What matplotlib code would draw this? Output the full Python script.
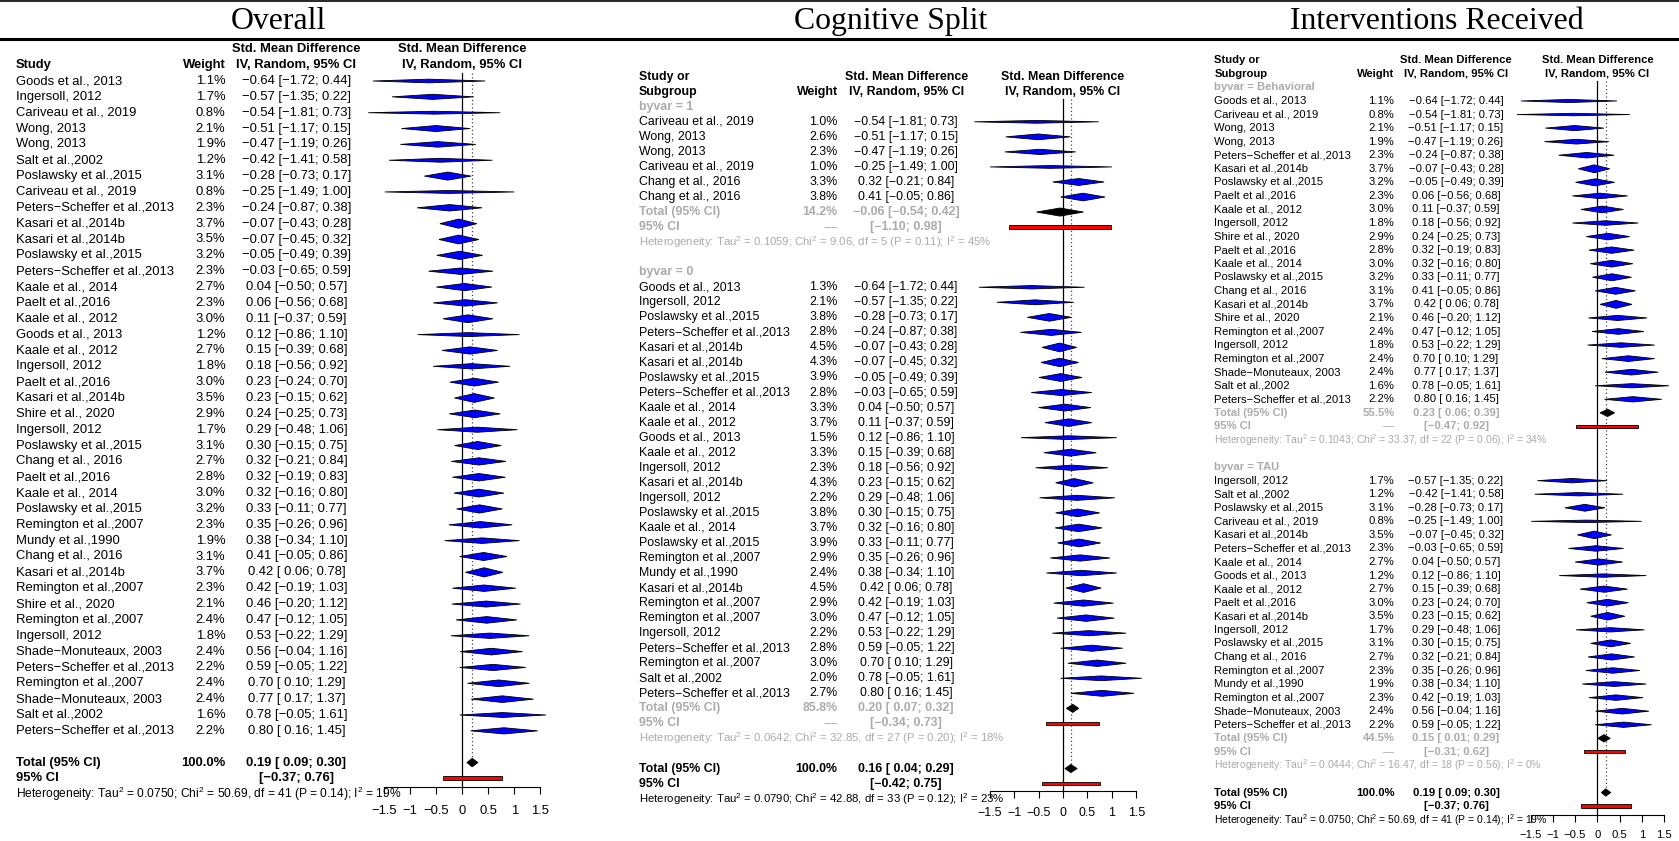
import matplotlib
matplotlib.use("Agg")
import matplotlib.pyplot as plt
import matplotlib.transforms as mtransforms
from matplotlib.patches import Polygon, Rectangle
from matplotlib.lines import Line2D

plt.rcParams['font.family'] = ['Liberation Sans', 'DejaVu Sans']
plt.rcParams['mathtext.fontset'] = 'custom'
plt.rcParams['mathtext.rm'] = 'Liberation Sans'
plt.rcParams['mathtext.default'] = 'regular'

# ---------------- Overall ----------------
overall_study = [
    "Goods et al., 2013", "Ingersoll, 2012", "Cariveau et al., 2019", "Wong, 2013", "Wong, 2013",
    "Salt et al.,2002", "Poslawsky et al.,2015", "Cariveau et al., 2019", "Peters\u2212Scheffer et al.,2013",
    "Kasari et al.,2014b", "Kasari et al.,2014b", "Poslawsky et al.,2015", "Peters\u2212Scheffer et al.,2013",
    "Kaale et al., 2014", "Paelt et al.,2016", "Kaale et al., 2012", "Goods et al., 2013", "Kaale et al., 2012",
    "Ingersoll, 2012", "Paelt et al.,2016", "Kasari et al.,2014b", "Shire et al., 2020", "Ingersoll, 2012",
    "Poslawsky et al.,2015", "Chang et al., 2016", "Paelt et al.,2016", "Kaale et al., 2014",
    "Poslawsky et al.,2015", "Remington et al.,2007", "Mundy et al.,1990", "Chang et al., 2016",
    "Kasari et al.,2014b", "Remington et al.,2007", "Shire et al., 2020", "Remington et al.,2007",
    "Ingersoll, 2012", "Shade\u2212Monuteaux, 2003", "Peters\u2212Scheffer et al.,2013", "Remington et al.,2007",
    "Shade\u2212Monuteaux, 2003", "Salt et al.,2002", "Peters\u2212Scheffer et al.,2013",
]
overall_weight = [1.1, 1.7, 0.8, 2.1, 1.9, 1.2, 3.1, 0.8, 2.3, 3.7, 3.5, 3.2, 2.3, 2.7, 2.3, 3.0, 1.2, 2.7,
                  1.8, 3.0, 3.5, 2.9, 1.7, 3.1, 2.7, 2.8, 3.0, 3.2, 2.3, 1.9, 3.1, 3.7, 2.3, 2.1, 2.4, 1.8,
                  2.4, 2.2, 2.4, 2.4, 1.6, 2.2]
overall_smd = [-0.64, -0.57, -0.54, -0.51, -0.47, -0.42, -0.28, -0.25, -0.24, -0.07, -0.07, -0.05, -0.03,
               0.04, 0.06, 0.11, 0.12, 0.15, 0.18, 0.23, 0.23, 0.24, 0.29, 0.30, 0.32, 0.32, 0.32, 0.33,
               0.35, 0.38, 0.41, 0.42, 0.42, 0.46, 0.47, 0.53, 0.56, 0.59, 0.70, 0.77, 0.78, 0.80]
overall_lower = [-1.72, -1.35, -1.81, -1.17, -1.19, -1.41, -0.73, -1.49, -0.87, -0.43, -0.45, -0.49, -0.65,
                 -0.50, -0.56, -0.37, -0.86, -0.39, -0.56, -0.24, -0.15, -0.25, -0.48, -0.15, -0.21, -0.19,
                 -0.16, -0.11, -0.26, -0.34, -0.05, 0.06, -0.19, -0.20, -0.12, -0.22, -0.04, -0.05, 0.10,
                 0.17, -0.05, 0.16]
overall_upper = [0.44, 0.22, 0.73, 0.15, 0.26, 0.58, 0.17, 1.00, 0.38, 0.28, 0.32, 0.39, 0.59, 0.57, 0.68,
                 0.59, 1.10, 0.68, 0.92, 0.70, 0.62, 0.73, 1.06, 0.75, 0.84, 0.83, 0.80, 0.77, 0.96, 1.10,
                 0.86, 0.78, 1.03, 1.12, 1.05, 1.29, 1.16, 1.22, 1.29, 1.37, 1.61, 1.45]
overall_total = [0.19, 0.09, 0.30]
overall_pred = [-0.37, 0.76]
overall_het = [0.0750, 50.69, 41, 0.14, 19]

# ---------------- Cognitive split ----------------
cog1_study = ["Cariveau et al., 2019", "Wong, 2013", "Wong, 2013", "Cariveau et al., 2019",
              "Chang et al., 2016", "Chang et al., 2016"]
cog1_weight = [1.0, 2.6, 2.3, 1.0, 3.3, 3.8]
cog1_smd = [-0.54, -0.51, -0.47, -0.25, 0.32, 0.41]
cog1_lower = [-1.81, -1.17, -1.19, -1.49, -0.21, -0.05]
cog1_upper = [0.73, 0.15, 0.26, 1.00, 0.84, 0.86]
cog1_total_weight = 14.2
cog1_total = [-0.06, -0.54, 0.42]
cog1_pred = [-1.10, 0.98]
cog1_het = [0.1059, 9.06, 5, 0.11, 45]

cog0_study = [
    "Goods et al., 2013", "Ingersoll, 2012", "Poslawsky et al.,2015", "Peters\u2212Scheffer et al.,2013",
    "Kasari et al.,2014b", "Kasari et al.,2014b", "Poslawsky et al.,2015", "Peters\u2212Scheffer et al.,2013",
    "Kaale et al., 2014", "Kaale et al., 2012", "Goods et al., 2013", "Kaale et al., 2012", "Ingersoll, 2012",
    "Kasari et al.,2014b", "Ingersoll, 2012", "Poslawsky et al.,2015", "Kaale et al., 2014",
    "Poslawsky et al.,2015", "Remington et al.,2007", "Mundy et al.,1990", "Kasari et al.,2014b",
    "Remington et al.,2007", "Remington et al.,2007", "Ingersoll, 2012", "Peters\u2212Scheffer et al.,2013",
    "Remington et al.,2007", "Salt et al.,2002", "Peters\u2212Scheffer et al.,2013",
]
cog0_weight = [1.3, 2.1, 3.8, 2.8, 4.5, 4.3, 3.9, 2.8, 3.3, 3.7, 1.5, 3.3, 2.3, 4.3, 2.2, 3.8, 3.7, 3.9,
               2.9, 2.4, 4.5, 2.9, 3.0, 2.2, 2.8, 3.0, 2.0, 2.7]
cog0_smd = [-0.64, -0.57, -0.28, -0.24, -0.07, -0.07, -0.05, -0.03, 0.04, 0.11, 0.12, 0.15, 0.18, 0.23,
            0.29, 0.30, 0.32, 0.33, 0.35, 0.38, 0.42, 0.42, 0.47, 0.53, 0.59, 0.70, 0.78, 0.80]
cog0_lower = [-1.72, -1.35, -0.73, -0.87, -0.43, -0.45, -0.49, -0.65, -0.50, -0.37, -0.86, -0.39, -0.56,
              -0.15, -0.48, -0.15, -0.16, -0.11, -0.26, -0.34, 0.06, -0.19, -0.12, -0.22, -0.05, 0.10,
              -0.05, 0.16]
cog0_upper = [0.44, 0.22, 0.17, 0.38, 0.28, 0.32, 0.39, 0.59, 0.57, 0.59, 1.10, 0.68, 0.92, 0.62, 1.06,
              0.75, 0.80, 0.77, 0.96, 1.10, 0.78, 1.03, 1.05, 1.29, 1.22, 1.29, 1.61, 1.45]
cog0_total_weight = 85.8
cog0_total = [0.20, 0.07, 0.32]
cog0_pred = [-0.34, 0.73]
cog0_het = [0.0642, 32.85, 27, 0.20, 18]

cog_total = [0.16, 0.04, 0.29]
cog_pred = [-0.42, 0.75]
cog_het = [0.0790, 42.88, 33, 0.12, 23]

# ---------------- Interventions received ----------------
beh_study = [
    "Goods et al., 2013", "Cariveau et al., 2019", "Wong, 2013", "Wong, 2013",
    "Peters\u2212Scheffer et al.,2013", "Kasari et al.,2014b", "Poslawsky et al.,2015", "Paelt et al.,2016",
    "Kaale et al., 2012", "Ingersoll, 2012", "Shire et al., 2020", "Paelt et al.,2016", "Kaale et al., 2014",
    "Poslawsky et al.,2015", "Chang et al., 2016", "Kasari et al.,2014b", "Shire et al., 2020",
    "Remington et al.,2007", "Ingersoll, 2012", "Remington et al.,2007", "Shade\u2212Monuteaux, 2003",
    "Salt et al.,2002", "Peters\u2212Scheffer et al.,2013",
]
beh_weight = [1.1, 0.8, 2.1, 1.9, 2.3, 3.7, 3.2, 2.3, 3.0, 1.8, 2.9, 2.8, 3.0, 3.2, 3.1, 3.7, 2.1, 2.4,
              1.8, 2.4, 2.4, 1.6, 2.2]
beh_smd = [-0.64, -0.54, -0.51, -0.47, -0.24, -0.07, -0.05, 0.06, 0.11, 0.18, 0.24, 0.32, 0.32, 0.33,
           0.41, 0.42, 0.46, 0.47, 0.53, 0.70, 0.77, 0.78, 0.80]
beh_lower = [-1.72, -1.81, -1.17, -1.19, -0.87, -0.43, -0.49, -0.56, -0.37, -0.56, -0.25, -0.19, -0.16,
             -0.11, -0.05, 0.06, -0.20, -0.12, -0.22, 0.10, 0.17, -0.05, 0.16]
beh_upper = [0.44, 0.73, 0.15, 0.26, 0.38, 0.28, 0.39, 0.68, 0.59, 0.92, 0.73, 0.83, 0.80, 0.77, 0.86,
             0.78, 1.12, 1.05, 1.29, 1.29, 1.37, 1.61, 1.45]
beh_total_weight = 55.5
beh_total = [0.23, 0.06, 0.39]
beh_pred = [-0.47, 0.92]
beh_het = [0.1043, 33.37, 22, 0.06, 34]

tau_study = [
    "Ingersoll, 2012", "Salt et al.,2002", "Poslawsky et al.,2015", "Cariveau et al., 2019",
    "Kasari et al.,2014b", "Peters\u2212Scheffer et al.,2013", "Kaale et al., 2014", "Goods et al., 2013",
    "Kaale et al., 2012", "Paelt et al.,2016", "Kasari et al.,2014b", "Ingersoll, 2012",
    "Poslawsky et al.,2015", "Chang et al., 2016", "Remington et al.,2007", "Mundy et al.,1990",
    "Remington et al.,2007", "Shade\u2212Monuteaux, 2003", "Peters\u2212Scheffer et al.,2013",
]
tau_weight = [1.7, 1.2, 3.1, 0.8, 3.5, 2.3, 2.7, 1.2, 2.7, 3.0, 3.5, 1.7, 3.1, 2.7, 2.3, 1.9, 2.3, 2.4, 2.2]
tau_smd = [-0.57, -0.42, -0.28, -0.25, -0.07, -0.03, 0.04, 0.12, 0.15, 0.23, 0.23, 0.29, 0.30, 0.32, 0.35,
           0.38, 0.42, 0.56, 0.59]
tau_lower = [-1.35, -1.41, -0.73, -1.49, -0.45, -0.65, -0.50, -0.86, -0.39, -0.24, -0.15, -0.48, -0.15,
             -0.21, -0.26, -0.34, -0.19, -0.04, -0.05]
tau_upper = [0.22, 0.58, 0.17, 1.00, 0.32, 0.59, 0.57, 1.10, 0.68, 0.70, 0.62, 1.06, 0.75, 0.84, 0.96,
             1.10, 1.03, 1.16, 1.22]
tau_total_weight = 44.5
tau_total = [0.15, 0.01, 0.29]
tau_pred = [-0.31, 0.62]
tau_het = [0.0444, 16.47, 18, 0.56, 0]

int_total = [0.19, 0.09, 0.30]
int_pred = [-0.37, 0.76]
int_het = [0.0750, 50.69, 41, 0.14, 19]

xticks = [-1.5, -1, -0.5, 0, 0.5, 1, 1.5]
xtick_labels = ["\u22121.5", "\u22121", "\u22120.5", "0", "0.5", "1", "1.5"]

W, H = 1679, 841
GREY = "#ababab"
BLUE = "#0000ff"


def num(v):
    s = "%.2f" % abs(v)
    return "\u2212" + s if v < 0 else s


def ci_text(lo, hi):
    lo_s = num(lo) if lo < 0 else " " + num(lo)
    return "[%s; %s]" % (lo_s, num(hi))


def het_text(h):
    tau2, chi2, df, p, i2 = h
    return ("Heterogeneity: Tau$^2$ = %.4f; Chi$^2$ = %.2f, df = %d (P = %.2f); I$^2$ = %d%%"
            % (tau2, chi2, df, p, i2))


def study_rows(names, weights, smd, lower, upper):
    return [("study", n, w, e, lo, hi) for n, w, e, lo, hi in zip(names, weights, smd, lower, upper)]


def subgroup_rows(label, names, weights, smd, lower, upper, tw, tot, pred, het, dash):
    rows = [("label", label)]
    rows += study_rows(names, weights, smd, lower, upper)
    rows += [("total", tw, tot, True), ("pred", pred, True, dash), ("het", het, True), ("blank",)]
    return rows


def final_rows(tot, pred, het):
    return [("total", 100.0, tot, False), ("pred", pred, False, None), ("het", het, False)]


def draw_panel(title, title_x, header, rows, x_lo, x_hi, y0, dy, y_axis,
               name_x, weight_x, est_x, fs, pooled, tick_pad):
    top = y0 - 0.5 * dy
    ax = fig.add_axes([x_lo / W, 1 - y_axis / H, (x_hi - x_lo) / W, (y_axis - top) / H])
    row_axis = (y_axis - y0) / dy
    ax.set_xlim(-1.5, 1.5)
    ax.set_ylim(row_axis, -0.5)
    for s in ["top", "left", "right"]:
        ax.spines[s].set_visible(False)
    ax.spines["bottom"].set_linewidth(0.8)
    ax.set_yticks([])
    ax.set_xticks(xticks)
    ax.set_xticklabels(xtick_labels)
    ax.tick_params(axis="x", direction="out", length=5, width=0.8, pad=tick_pad, labelsize=fs)
    ax.patch.set_alpha(0)

    tr = mtransforms.blended_transform_factory(fig.transFigure, ax.transData)
    nx, wx, ex = name_x / W, weight_x / W, est_x / W

    fig.text(title_x / W, 1 - 29 / H, title, ha="center", va="baseline",
             family="Liberation Serif", fontsize=22.9)

    # column headings
    if header == 1:
        ax.text(nx, 1, "Study", transform=tr, fontsize=fs, weight="bold", va="center")
    else:
        ax.text(nx, 0, "Study or", transform=tr, fontsize=fs, weight="bold", va="center")
        ax.text(nx, 1, "Subgroup", transform=tr, fontsize=fs, weight="bold", va="center")
    ax.text(wx, 1, "Weight", transform=tr, fontsize=fs, weight="bold", va="center", ha="right")
    ax.text(ex, 0, "Std. Mean Difference", transform=tr, fontsize=fs, weight="bold",
            va="center", ha="center")
    ax.text(ex, 1, "IV, Random, 95% CI", transform=tr, fontsize=fs, weight="bold",
            va="center", ha="center")
    ax.text(0, 0, "Std. Mean Difference", fontsize=fs, weight="bold", va="center", ha="center",
            clip_on=False)
    ax.text(0, 1, "IV, Random, 95% CI", fontsize=fs, weight="bold", va="center", ha="center",
            clip_on=False)

    wmax = max(r[2] for r in rows if r[0] == "study")
    last_total = None
    for r, row in enumerate(rows, start=2):
        kind = row[0]
        if kind == "label":
            ax.text(nx, r, row[1], transform=tr, fontsize=fs, weight="bold", color=GREY, va="center")
        elif kind == "study":
            _, name, w, e, lo, hi = row
            ax.text(nx, r, name, transform=tr, fontsize=fs, va="center")
            ax.text(wx, r, "%.1f%%" % w, transform=tr, fontsize=fs, va="center", ha="right")
            ax.text(ex, r, num(e) + " " + ci_text(lo, hi), transform=tr, fontsize=fs,
                    va="center", ha="center")
            # diamond height grows with the study weight
            h = 0.29 * (w / wmax) ** 0.75
            ax.add_patch(Polygon([(lo, r), (e, r - h), (hi, r), (e, r + h)], closed=True,
                                 facecolor=BLUE, edgecolor="black", lw=0.6, clip_on=False, zorder=3))
        elif kind == "total":
            _, w, (e, lo, hi), sub = row
            col = GREY if sub else "black"
            ax.text(nx, r, "Total (95% CI)", transform=tr, fontsize=fs, weight="bold",
                    color=col, va="center")
            ax.text(wx, r, "%.1f%%" % w, transform=tr, fontsize=fs, weight="bold", color=col,
                    va="center", ha="right")
            ax.text(ex, r, num(e) + " " + ci_text(lo, hi), transform=tr, fontsize=fs,
                    weight="bold", color=col, va="center", ha="center")
            ax.add_patch(Polygon([(lo, r), (e, r - 0.27), (hi, r), (e, r + 0.27)], closed=True,
                                 facecolor="black", edgecolor="black", lw=0.6, clip_on=False, zorder=3))
            if not sub:
                last_total = r
        elif kind == "pred":
            _, (lo, hi), sub, dash = row
            col = GREY if sub else "black"
            ax.text(nx, r, "95% CI", transform=tr, fontsize=fs, weight="bold", color=col,
                    va="center")
            if dash:
                ax.text(wx, r, dash, transform=tr, fontsize=fs, color=col, va="center", ha="right")
            ax.text(ex, r, ci_text(lo, hi), transform=tr, fontsize=fs, weight="bold", color=col,
                    va="center", ha="center")
            ax.add_patch(Rectangle((lo, r - 0.12), hi - lo, 0.24, facecolor="red",
                                   edgecolor="black", lw=0.6, clip_on=False, zorder=3))
        elif kind == "het":
            _, h, sub = row
            ax.text(nx, r, het_text(h), transform=tr, fontsize=fs * 0.92,
                    color=GREY if sub else "black", va="center")

    # reference line at zero and dotted line at the pooled estimate
    ax.plot([0, 0], [1.5, row_axis], color="black", lw=0.9, clip_on=False, zorder=2)
    ax.plot([pooled, pooled], [1.5, last_total], color="#444444", lw=0.9, ls=(0, (1, 2)),
            clip_on=False, zorder=2)
    return ax


fig = plt.figure(figsize=(W / 100, H / 100), dpi=100)
fig.patch.set_facecolor("white")

fig.add_artist(Line2D([0, 1], [1 - 1 / H, 1 - 1 / H], color="black", lw=1.2))
fig.add_artist(Line2D([0, 1], [1 - 38.5 / H, 1 - 38.5 / H], color="black", lw=2.2))

rows_overall = (study_rows(overall_study, overall_weight, overall_smd, overall_lower, overall_upper)
                + [("blank",)] + final_rows(overall_total, overall_pred, overall_het))
draw_panel("Overall", 278.6, 1, rows_overall, 384.3, 540.3, 49.3, 15.85, 786.7,
           15.7, 225.4, 296.4, 9.4, overall_total[0], 8.5)

rows_cog = (subgroup_rows("byvar = 1", cog1_study, cog1_weight, cog1_smd, cog1_lower, cog1_upper,
                          cog1_total_weight, cog1_total, cog1_pred, cog1_het, "\u2212\u2212")
            + subgroup_rows("byvar = 0", cog0_study, cog0_weight, cog0_smd, cog0_lower, cog0_upper,
                            cog0_total_weight, cog0_total, cog0_pred, cog0_het, "\u2212\u2212")
            + final_rows(cog_total, cog_pred, cog_het))
draw_panel("Cognitive Split", 890.3, 2, rows_cog, 989.6, 1136.4, 76.7, 15.04, 790.7,
           639.0, 837.7, 906.1, 8.95, cog_total[0], 6.5)

rows_int = (subgroup_rows("byvar = Behavioral", beh_study, beh_weight, beh_smd, beh_lower, beh_upper,
                          beh_total_weight, beh_total, beh_pred, beh_het, "\u2014")
            + subgroup_rows("byvar = TAU", tau_study, tau_weight, tau_smd, tau_lower, tau_upper,
                            tau_total_weight, tau_total, tau_pred, tau_het, "\u2014")
            + final_rows(int_total, int_pred, int_het))
draw_panel("Interventions Received", 1437.0, 2, rows_int, 1530.7, 1664.0, 60.3, 13.56, 815.0,
           1214.3, 1394.3, 1456.0, 8.1, int_total[0], 5.5)

fig.savefig("out.png", dpi=100)
